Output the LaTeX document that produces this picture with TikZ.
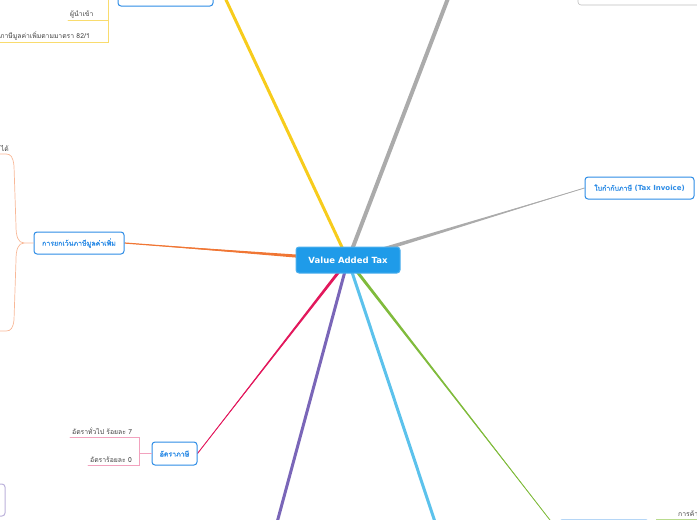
\documentclass[tikz,border=0pt]{standalone}
\usepackage{fontspec}
\setmainfont{DejaVu Sans}
\newfontfamily\thai[Script=Thai,BoldFont={Loma},BoldFeatures={FakeBold=1.6}]{Loma}
\usetikzlibrary{calc,backgrounds}
\definecolor{mmblue}{HTML}{2D8CE6}
\definecolor{vatfill}{HTML}{1F9BE9}
\definecolor{yel}{HTML}{F7CC1C}
\definecolor{yelthin}{HTML}{F9DC6E}
\definecolor{grayb}{HTML}{ABABAB}
\definecolor{orng}{HTML}{F07634}
\definecolor{salmon}{HTML}{F8B898}
\definecolor{crim}{HTML}{E2185C}
\definecolor{pnk}{HTML}{F2A2BE}
\definecolor{purp}{HTML}{7A66B8}
\definecolor{lblue}{HTML}{5CC2EC}
\definecolor{grn}{HTML}{80BB3C}
\definecolor{grnthin}{HTML}{B9DC8E}
\tikzset{
  root/.style={draw=vatfill!80!white,line width=1pt,fill=vatfill,rounded corners=3pt,text=white,
    font=\bfseries\fontsize{8.5}{10}\selectfont,minimum width=104pt,minimum height=26pt},
  topic/.style={draw=mmblue,line width=1pt,rounded corners=3pt,fill=white,text=mmblue,
    font=\bfseries\fontsize{7}{8}\selectfont,minimum height=22pt},
  leaf/.style={font=\thai\fontsize{6.8}{7.5}\selectfont,text=black!75,inner xsep=2pt,inner ysep=2pt},
  twig/.style={line width=.7pt}
}
\newcommand\taper[4]{\fill[#1] ($(#2)+(#4)$) -- ($(#2)-(#4)$) -- (#3) -- cycle;}
\begin{document}
\begin{tikzpicture}[x=1pt,y=-1pt,line cap=round]
\useasboundingbox (0,0) rectangle (697,520);
\clip (0,0) rectangle (697,520);
% main topics
\node[root] (vat) at (348,260) {Value Added Tax};
\node[topic,minimum width=95pt] (tl) at (165.5,-5) {};
\node[topic,minimum width=164pt,draw=black!25,line width=.6pt] (tr) at (660,-6) {};
\node[topic,minimum width=109pt] (inv) at (639.5,188) {{\thai\bfseries ใบกำกับภาษี} (Tax Invoice)};
\node[topic,minimum width=90pt] (exempt) at (79,243) {\thai\bfseries การยกเว้นภาษีมูลค่าเพิ่ม};
\node[topic,minimum width=45pt,minimum height=23pt] (rate) at (174.5,453.5) {\thai\bfseries อัตราภาษี};
\node[topic,minimum width=90pt] (br) at (604,531) {};
\node[topic,minimum width=90pt,minimum height=32pt,draw=purp!50] (bl) at (-40,500) {};
\coordinate (ytop) at (212,-30);
\coordinate (gtop) at (455,-20);
\coordinate (pbot) at (275,530);
\coordinate (lbot) at (441,540);
% branches
\begin{scope}[on background layer]
\clip (0,0) rectangle (697,520);
\draw[yel,line width=3pt] (vat.center) -- (ytop);
\draw[grayb,line width=4pt] (vat.center) -- (gtop);
\taper{grayb}{vat.center}{inv.west}{0,2.4}
\draw[grayb,line width=.8pt] (vat.center) -- (inv.west);
\taper{orng}{vat.center}{exempt.east}{0,2}
\draw[orng,line width=1.2pt] (vat.center) -- (exempt.east);
\taper{crim}{vat.center}{rate.east}{2,0}
\draw[crim,line width=.9pt] (vat.center) -- (rate.east);
\draw[purp,line width=3pt] (vat.center) -- (pbot);
\draw[lblue,line width=3pt] (vat.center) -- (lbot);
\taper{grn}{vat.center}{br.west}{2,0}
\draw[grn,line width=.8pt] (vat.center) -- (br.west);
\end{scope}
% leaves
\node[leaf,anchor=south west] (imp) at (68,20) {ผู้นำเข้า};
\node[leaf,anchor=south east] (l82) at (92,42) {ผู้ประกอบการที่เสียภาษีมูลค่าเพิ่มตามมาตรา 82/1};
\draw[yelthin,twig] (tl.west) -- (108,-5) coordinate (yj) |- (imp.south west);
\draw[yelthin,twig] (yj) |- (l82.south west);
\node[leaf,anchor=south east] (ex1) at (11,154) {ได้};
\draw[salmon,twig] (exempt.west) -- (24,243) coordinate (oj)
  .. controls (18,243) and (16,236) .. (16,226) -- (14,166)
  .. controls (13,157) and (11,154) .. (6,154) -- (ex1.south west);
\draw[salmon,twig] (oj) .. controls (18,243) and (16,250) .. (16,260) -- (14,320)
  .. controls (13,328) and (11,331) .. (6,331) -- (-5,331);
\node[leaf,anchor=south west] (r7) at (70,437) {อัตราทั่วไป ร้อยละ 7};
\node[leaf,anchor=south west] (r0) at (88,465) {อัตราร้อยละ 0};
\draw[pnk,twig] (rate.west) -- ++(-12,0) coordinate (rj);
\draw[pnk,twig] (r7.south west) -| (rj) |- (r0.south west);
\node[leaf,anchor=south west] (trade) at (676,519) {การค้า};
\draw[grnthin,twig] (br.east) -- ++(7,0) |- (trade.south east);
\end{tikzpicture}
\end{document}
